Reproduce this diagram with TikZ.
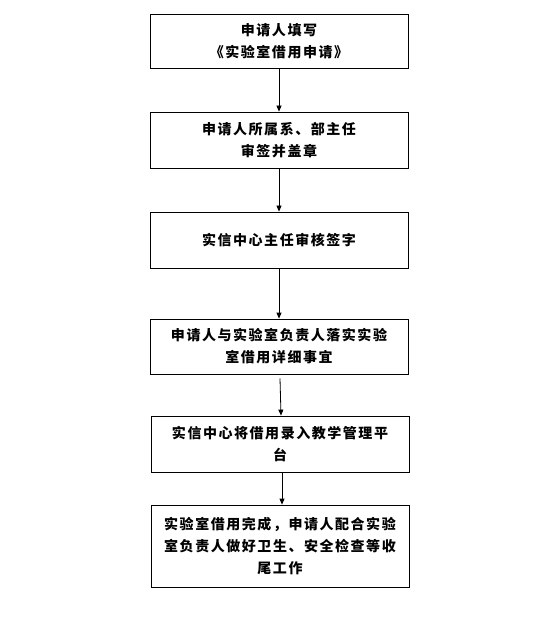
\documentclass[tikz,border=0pt]{standalone}
\usepackage{fontspec}
\newfontfamily\cjk[LetterSpace=11]{Noto Sans CJK SC}
\usetikzlibrary{arrows.meta}
\tikzset{
  flowbox/.style={draw, line width=0.8pt, minimum width=258pt, align=center, inner sep=0pt,
    font=\cjk\bfseries\fontsize{14}{22}\selectfont},
  flowarrow/.style={line width=0.8pt, -{Triangle[length=6pt,width=5pt]}}
}
\begin{document}
\begin{tikzpicture}[x=1pt,y=-1pt]
\useasboundingbox[fill=white] (0,0) rectangle (554,617);
\node[flowbox, minimum height=54pt] (b1) at (279,41) {申请人填写\\《实验室借用申请》};
\node[flowbox, minimum height=56pt] (b2) at (279,140) {申请人所属系、部主任\\审签并盖章};
\node[flowbox, minimum height=56pt] (b3) at (279,240) {实信中心主任审核签字};
\node[flowbox, minimum height=55pt] (b4) at (279,346.5) {申请人与实验室负责人落实实验\\室借用详细事宜};
\node[flowbox, minimum height=56pt] (b5) at (280,444) {实信中心将借用录入教学管理平\\台};
\node[flowbox, minimum height=82pt] (b6) at (280,546) {实验室借用完成，申请人配合实验\\室负责人做好卫生、安全检查等收\\尾工作};
\draw[flowarrow] (b1.south) -- (b2.north);
\draw[flowarrow] (b2.south) -- (b3.north);
\draw[flowarrow] (b3.south) -- (b4.north);
\draw[flowarrow] ([xshift=1pt,yshift=-4pt]b4.south) -- ([xshift=1pt]b5.north);
\draw[flowarrow] ([xshift=2pt]b5.south) -- ([xshift=2pt]b6.north);
\end{tikzpicture}
\end{document}
